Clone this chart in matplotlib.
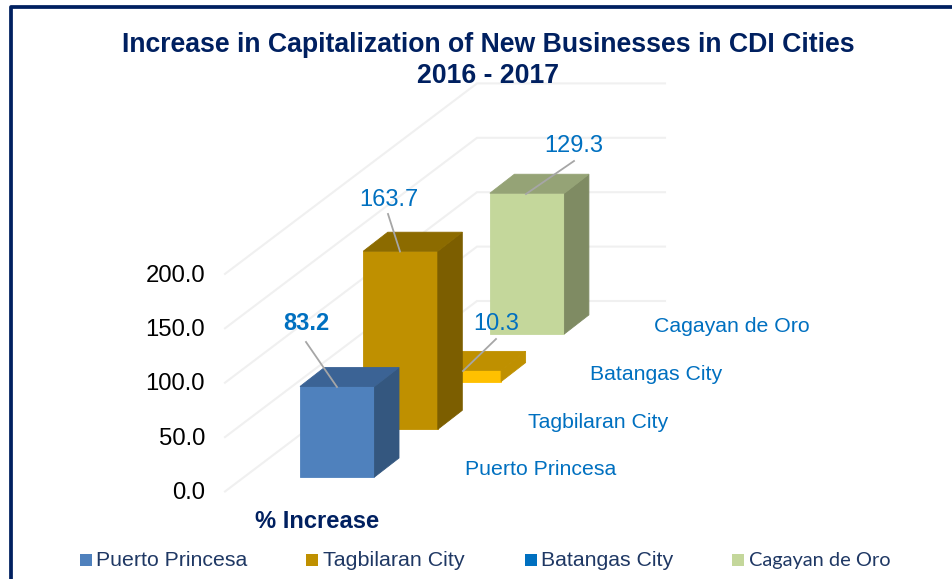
import matplotlib
matplotlib.use("Agg")
import matplotlib.pyplot as plt
from matplotlib.patches import Polygon, Rectangle

# ---- data ----
cities = ["Puerto Princesa", "Tagbilaran City", "Batangas City", "Cagayan de Oro"]
values = [83.2, 163.7, 10.3, 129.3]
value_labels = ["83.2", "163.7", "10.3", "129.3"]
axis_ticks = [0, 50, 100, 150, 200]
axis_tick_labels = ["0.0", "50.0", "100.0", "150.0", "200.0"]
title_lines = ["Increase in Capitalization of New Businesses in CDI Cities", "2016 - 2017"]
axis_name = "% Increase"

# ---- styles ----
front = ["#4F81BD", "#BF9000", "#FFC000", "#C4D79B"]
side = ["#34577F", "#7C5E00", "#BF9000", "#7F8B63"]
top = ["#3B6395", "#8C6B00", "#BF9000", "#95A376"]
legend_swatch = ["#4F81BD", "#BF9000", "#0070C0", "#C4D79B"]
NAVY = "#002060"
BLUE = "#0070C0"
LEGEND_TEXT = "#1F3864"
GRID = "#F0F0F0"
plt.rcParams["font.family"] = ["Liberation Sans", "DejaVu Sans"]

# oblique projection (chart space -> pixels)
PX_PER_UNIT = 1.088
Y0 = 491.5
WALL_X, WALL_RIGHT = 225, 665
WALL_DX, WALL_DY = 252, -190.5
BAR_W = 74.5
BAR_X0, BAR_Y0 = 300, 477
STEP_X, STEP_Y = 63.3, -47.7
DEPTH_X, DEPTH_Y = 24.5, -19


def vy(v):
    return v * PX_PER_UNIT


fig = plt.figure(figsize=(9.53, 5.79), dpi=100)
ax = fig.add_axes([0, 0, 1, 1])
ax.set_xlim(0, 953)
ax.set_ylim(579, 0)
ax.axis("off")

# frame
ax.plot([11, 11, 953], [579, 7, 7], color=NAVY, lw=2.7, solid_joinstyle="round", zorder=1)

# walls' gridlines
for t in axis_ticks:
    y = Y0 - vy(t)
    ax.plot([WALL_X, WALL_X + WALL_DX, WALL_RIGHT],
            [y, y + WALL_DY, y + WALL_DY],
            color=GRID, lw=1.5, zorder=1, solid_joinstyle="miter")

# axis tick labels
tick_y_offset = 1.7
for t, lab in zip(axis_ticks, axis_tick_labels):
    ax.text(205, Y0 - vy(t) + tick_y_offset, lab, ha="right", va="center",
            fontsize=17.2, color="black", zorder=5)

# bars, back to front
for i in reversed(range(len(values))):
    x0 = BAR_X0 + STEP_X * i
    yb = BAR_Y0 + STEP_Y * i
    yt = yb - vy(values[i])
    x1 = x0 + BAR_W
    z = 10 - i
    ax.add_patch(Polygon([(x0, yb), (x1, yb), (x1, yt), (x0, yt)], closed=True,
                         fc=front[i], ec=front[i], lw=0.6, zorder=z))
    ax.add_patch(Polygon([(x1, yb), (x1 + DEPTH_X, yb + DEPTH_Y),
                          (x1 + DEPTH_X, yt + DEPTH_Y), (x1, yt)], closed=True,
                         fc=side[i], ec=side[i], lw=0.6, zorder=z))
    ax.add_patch(Polygon([(x0, yt), (x1, yt), (x1 + DEPTH_X, yt + DEPTH_Y),
                          (x0 + DEPTH_X, yt + DEPTH_Y)], closed=True,
                         fc=top[i], ec=top[i], lw=0.6, zorder=z))

# value labels with leader lines
label_pos = [(306, 324), (389, 200), (496, 324), (574, 146)]
leader_start = [(306, 342), (388, 214), (496, 339), (574, 161)]
leader_end = [(337, 387), (400, 251.5), (463, 371), (526, 194)]
for i, lab in enumerate(value_labels):
    ax.plot([leader_start[i][0], leader_end[i][0]], [leader_start[i][1], leader_end[i][1]],
            color="#A6A6A6", lw=1.3, zorder=20)
    ax.text(label_pos[i][0], label_pos[i][1], lab, ha="center", va="center",
            fontsize=17, color=BLUE, fontweight="bold" if i == 0 else "normal", zorder=21)

# depth-axis category labels
cat_x = [465, 528, 590, 654]
cat_y = [469.5, 422.5, 374.5, 326.5]
for c, x, y in zip(cities, cat_x, cat_y):
    ax.text(x, y, c, ha="left", va="center", fontsize=15.3, color=BLUE, zorder=21)

# titles
for line, y in zip(title_lines, [45, 76]):
    ax.text(488, y, line, ha="center", va="center", fontsize=19.2,
            fontweight="bold", color=NAVY, zorder=30)
ax.text(255, 522, axis_name, ha="left", va="center", fontsize=17.1,
        fontweight="bold", color=NAVY, zorder=30)

# legend
sw_x = [80, 306, 525, 732]
txt_x = [96, 323, 541, 749]
leg_fonts = ["Liberation Sans", "Liberation Sans", "Liberation Sans", "Lato"]
leg_sizes = [15.3, 15.4, 15.3, 14.4]
for c, col, sx, tx, fnt, fs in zip(cities, legend_swatch, sw_x, txt_x, leg_fonts, leg_sizes):
    ax.add_patch(Rectangle((sx, 554), 12, 12, fc=col, ec="none", zorder=30))
    ax.text(tx, 560.5, c, ha="left", va="center", fontsize=fs, color=LEGEND_TEXT,
            family=fnt, zorder=30)

fig.savefig("out.png", dpi=100)
